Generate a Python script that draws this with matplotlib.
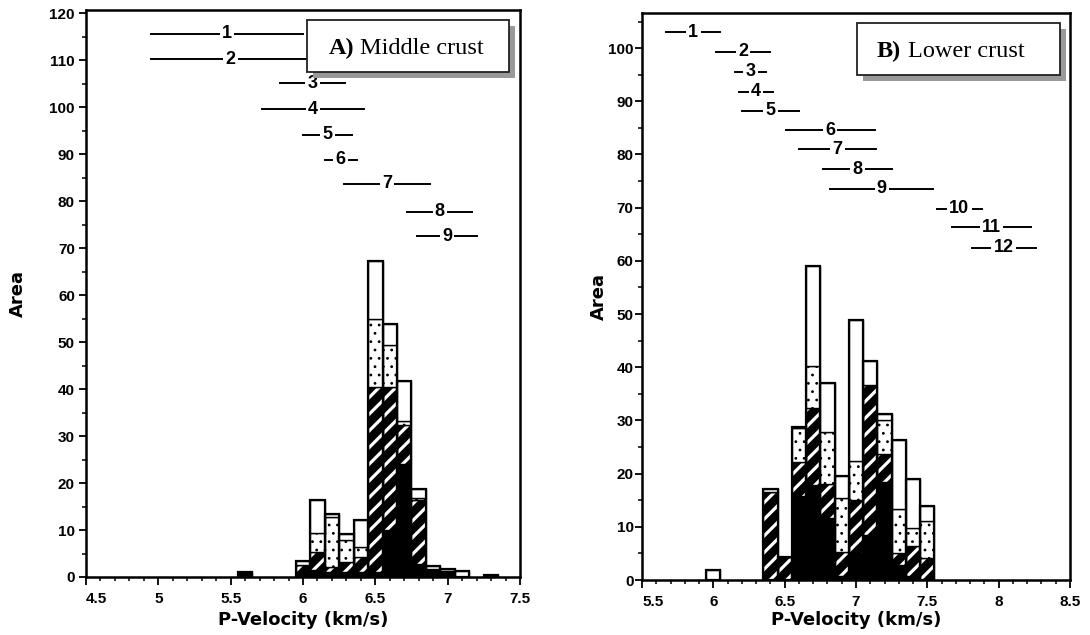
import numpy as np
import matplotlib.pyplot as plt
from matplotlib.patches import Rectangle
from matplotlib.ticker import MultipleLocator

#----Step 0: data------------------------------------------
# bin centres (km/s), bin width 0.1
mid_v       = [5.6, 6.0, 6.1, 6.2, 6.3, 6.4, 6.5, 6.6, 6.7, 6.8, 6.9, 7.0, 7.1, 7.3]
mid_black   = [1.0, 1.0, 1.4, 1.0, 1.1, 1.1, 1.0, 9.9, 24.1, 2.8, 1.5, 1.3, 0.0, 0.4]
mid_hatched = [0.0, 1.5, 3.9, 1.1, 2.1, 3.2, 39.4, 30.5, 8.2, 13.5, 0.3, 0.0, 0.0, 0.0]
mid_dotted  = [0.0, 0.0, 4.1, 10.7, 4.7, 2.1, 14.6, 8.9, 1.0, 0.5, 0.0, 0.0, 0.0, 0.0]
mid_white   = [0.0, 0.8, 6.9, 0.7, 1.3, 5.7, 12.2, 4.6, 8.5, 2.0, 0.5, 0.5, 1.3, 0.0]

low_v       = [6.0, 6.4, 6.5, 6.6, 6.7, 6.8, 6.9, 7.0, 7.1, 7.2, 7.3, 7.4, 7.5]
low_black   = [0.0, 0.0, 0.0, 15.7, 17.9, 11.6, 0.8, 5.0, 8.5, 18.5, 2.8, 0.8, 0.0]
low_hatched = [0.0, 16.5, 4.4, 6.4, 14.4, 6.4, 4.5, 10.0, 28.2, 5.1, 2.2, 5.6, 4.1]
low_dotted  = [0.0, 0.0, 0.0, 6.4, 7.9, 9.9, 10.1, 7.4, 0.0, 6.5, 8.3, 3.4, 7.0]
low_white   = [1.9, 0.6, 0.0, 0.3, 18.9, 9.2, 4.2, 26.5, 4.5, 1.1, 13.0, 9.1, 2.8]

# velocity ranges drawn as numbered bars
mid_lo = [4.95, 4.95, 5.84, 5.72, 6.00, 6.15, 6.28, 6.72, 6.79]
mid_hi = [6.00, 6.05, 6.29, 6.42, 6.34, 6.37, 6.88, 7.17, 7.20]
mid_y  = [115.6, 110.2, 105.1, 99.6, 94.1, 88.8, 83.7, 77.8, 72.5]

low_lo = [5.67, 6.02, 6.15, 6.18, 6.20, 6.51, 6.60, 6.77, 6.82, 7.57, 7.67, 7.81]
low_hi = [6.05, 6.40, 6.37, 6.42, 6.60, 7.13, 7.14, 7.25, 7.54, 7.88, 8.23, 8.26]
low_y  = [103.0, 99.3, 95.6, 91.8, 88.2, 84.6, 81.0, 77.2, 73.6, 69.8, 66.3, 62.5]
#----------------------------------------------------------

plt.rcParams['font.family'] = ['Liberation Sans', 'DejaVu Sans']
plt.rcParams['font.weight'] = 'bold'

W, H = 1090, 635


def px(x0, y0, w, h):
    # pixel box (from top-left) -> figure fraction
    return [x0 / W, 1 - (y0 + h) / H, w / W, h / H]


def draw_stack(ax, v, black, hatched, dotted, white):
    v = np.array(v)
    b1 = np.array(black)
    b2 = b1 + hatched
    b3 = b2 + dotted
    top = b3 + white
    ax.bar(v, black, width=0.1, color='black', edgecolor='black', linewidth=1.0)
    with plt.rc_context({'hatch.linewidth': 2.3}):
        ax.bar(v, hatched, bottom=b1, width=0.1, color='black',
               edgecolor='white', hatch='//', linewidth=0)
    ax.bar(v, hatched, bottom=b1, width=0.1, fill=False, edgecolor='black', linewidth=1.0)
    with plt.rc_context({'hatch.linewidth': 0.8}):
        ax.bar(v, dotted, bottom=b2, width=0.1, color='white',
               edgecolor='black', hatch='..', linewidth=1.0)
    ax.bar(v, white, bottom=b3, width=0.1, color='white', edgecolor='black', linewidth=1.0)
    ax.bar(v, top, width=0.1, fill=False, edgecolor='black', linewidth=1.6)


def draw_ranges(ax, lo, hi, y):
    for i in range(len(lo)):
        ax.plot([lo[i], hi[i]], [y[i], y[i]], color='black', lw=1.4, zorder=3)
        ax.text((lo[i] + hi[i]) / 2, y[i], str(i + 1), ha='center', va='center',
                fontsize=13, fontweight='bold', zorder=4,
                bbox=dict(boxstyle='square,pad=0.12', fc='white', ec='none'))


def style_axes(ax, xmin, xmax, ymax, ypad, ylab_x, xlab_y):
    ax.set_xlim(xmin, xmax)
    ax.set_ylim(0, ymax)
    ticks = np.arange(xmin, xmax + 0.01, 0.5)
    ax.set_xticks(ticks)
    ax.set_xticklabels([f'{t:g}' for t in ticks])
    ax.get_xticklabels()[0].set_horizontalalignment('left')
    ax.xaxis.set_minor_locator(MultipleLocator(0.1))
    ax.yaxis.set_major_locator(MultipleLocator(10))
    ax.yaxis.set_minor_locator(MultipleLocator(5))
    ax.tick_params(which='major', direction='out', length=6, width=1.3, labelsize=11)
    ax.tick_params(which='minor', direction='out', length=3, width=1.1)
    ax.tick_params(axis='x', which='major', pad=5)
    ax.tick_params(axis='y', which='major', length=5, pad=ypad)
    for s in ax.spines.values():
        s.set_linewidth(1.8)
    ax.set_xlabel('P-Velocity (km/s)', family='DejaVu Sans', fontsize=13, fontweight='bold')
    ax.set_ylabel('Area', family='DejaVu Sans', fontsize=13, fontweight='bold')
    ax.xaxis.set_label_coords(0.5, xlab_y)
    ax.yaxis.set_label_coords(ylab_x, 0.5)


def label_box(fig, x0, y0, w, h, bold, rest, tx, rx, base):
    sx, sy = px(x0 + 6, y0 + 6, w, h)[:2]
    bx, by = px(x0, y0, w, h)[:2]
    fig.add_artist(Rectangle((sx, sy), w / W, h / H, transform=fig.transFigure,
                             fc='#999999', ec='none', zorder=5))
    fig.add_artist(Rectangle((bx, by), w / W, h / H, transform=fig.transFigure,
                             fc='white', ec='#222222', lw=1.3, zorder=6))
    fig.text(tx / W, 1 - base / H, bold, family='Liberation Serif', fontsize=17.5,
             fontweight='bold', va='baseline', zorder=7)
    fig.text(rx / W, 1 - base / H, rest, family='Liberation Serif', fontsize=17.5,
             fontweight='normal', va='baseline', zorder=7)


fig = plt.figure(figsize=(W / 100, H / 100), dpi=100)

#----Step 1: middle crust----------------------------------
ax1 = fig.add_axes(px(86, 10, 434, 567))
draw_stack(ax1, mid_v, mid_black, mid_hatched, mid_dotted, mid_white)
draw_ranges(ax1, mid_lo, mid_hi, mid_y)
style_axes(ax1, 4.5, 7.5, 120.7, 3, -0.136, -0.060)

#----Step 2: lower crust-----------------------------------
ax2 = fig.add_axes(px(642, 13, 428, 567))
draw_stack(ax2, low_v, low_black, low_hatched, low_dotted, low_white)
draw_ranges(ax2, low_lo, low_hi, low_y)
style_axes(ax2, 5.5, 8.5, 106.6, 1, -0.08, -0.055)

#----Step 3: panel titles----------------------------------
label_box(fig, 307, 20, 202, 52, 'A)', 'Middle crust', 329, 360, 54)
label_box(fig, 857, 23, 203, 52, 'B)', 'Lower crust', 877, 908, 57)

plt.savefig('out.png', dpi=100)
